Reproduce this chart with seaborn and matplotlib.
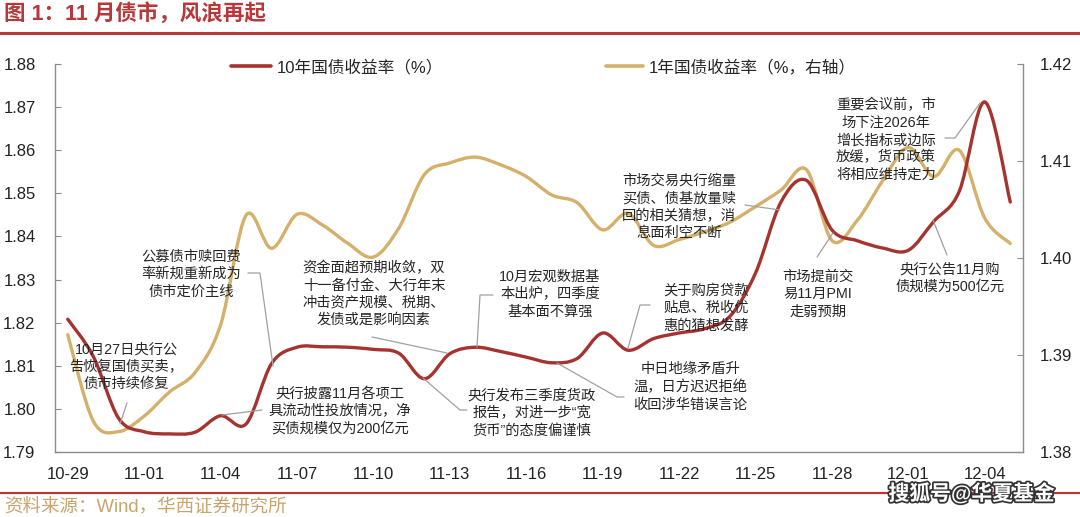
import numpy as np
import pandas as pd
import matplotlib
matplotlib.use("Agg")
import matplotlib.pyplot as plt
import matplotlib.dates as mdates
import matplotlib.patheffects as pe
from matplotlib.lines import Line2D
from matplotlib.path import Path
from matplotlib.patches import PathPatch
import seaborn as sns

# daily dates, 10-29 .. 12-05
dates = pd.date_range("2025-10-29", "2025-12-05", freq="D")

# 10y treasury yield (%, left axis)
y10 = [1.8208, 1.8122, 1.7978, 1.7947, 1.7942, 1.7946, 1.7984, 1.7965, 1.8105, 1.8143,
       1.8144, 1.8143, 1.8138, 1.8129, 1.8070, 1.8128, 1.8143, 1.8133, 1.8120, 1.8107,
       1.8117, 1.8176, 1.8136, 1.8163, 1.8176, 1.8186, 1.8215, 1.8315, 1.8480, 1.8530,
       1.8415, 1.8390, 1.8373, 1.8368, 1.8435, 1.8505, 1.8712, 1.8480]

# 1y treasury yield (%, right axis)
y1 = [1.3921, 1.3832, 1.3821, 1.3837, 1.3862, 1.3882, 1.3931, 1.4044, 1.4010, 1.4045,
      1.4034, 1.4015, 1.4001, 1.4031, 1.4086, 1.4098, 1.4104, 1.4096, 1.4084, 1.4065,
      1.4057, 1.4029, 1.4046, 1.4013, 1.4019, 1.4027, 1.4037, 1.4053, 1.4070, 1.4091,
      1.4018, 1.4039, 1.4080, 1.4114, 1.4084, 1.4111, 1.4041, 1.4015]

label10 = "10年国债收益率（%）"
label1 = "1年国债收益率（%，右轴）"

# annotation texts: (text, centre in px, leader polyline in px)
notes = [
    ("10月27日央行公\n告恢复国债买卖，\n债市持续修复", (126, 367), [(127, 403), (120, 424)]),
    ("公募债市赎回费\n率新规重新成为\n债市定价主线", (191, 274), [(248, 273), (260, 273), (273, 366)]),
    ("资金面超预期收敛，双\n十一备付金、大行年末\n冲击资产规模、税期、\n发债或是影响因素", (374, 294),
     [(372, 337), (447, 353)]),
    ("10月宏观数据基\n本出炉，四季度\n基本面不算强", (550, 294), [(493, 295), (480, 295), (477, 347)]),
    ("央行披露11月各项工\n具流动性投放情况，净\n买债规模仅为200亿元", (340, 411), [(262, 410), (222, 415)]),
    ("央行发布三季度货政\n报告，对进一步“宽\n货币”的态度偏谨慎", (532, 413),
     [(423, 378), (460, 410), (467, 410)]),
    ("关于购房贷款\n贴息、税收优\n惠的猜想发酵", (706, 308), [(650, 305), (640, 305), (628, 348)]),
    ("中日地缘矛盾升\n温，日方迟迟拒绝\n收回涉华错误言论", (690, 387), [(557, 363), (617, 397), (624, 397)]),
    ("市场交易央行缩量\n买债、债基放量赎\n回的相关猜想，消\n息面利空不断", (679, 207), [(745, 205), (780, 210)]),
    ("市场提前交\n易11月PMI\n走弱预期", (818, 294), [(817, 257), (833, 233)]),
    ("重要会议前，市\n场下注2026年\n增长指标或边际\n放缓，货币政策\n将相应维持定力", (886, 140),
     [(945, 138), (955, 138), (980, 103)]),
    ("央行公告11月购\n债规模为500亿元", (950, 278), [(947, 255), (933, 220)]),
]

RED = "#a5332f"
GOLD = "#d4b06a"
TITLE_RED = "#b8383a"
GRID_GRAY = "#8c8c8c"
W, H = 1080, 517

sns.set_style("white")
plt.rcParams['font.family'] = ['Liberation Sans', 'Noto Sans CJK SC', 'DejaVu Sans']

fig = plt.figure(figsize=(W / 100, H / 100), dpi=100)
ax = fig.add_axes([55 / W, 1 - 452 / H, (1023 - 55) / W, (452 - 64) / H])
ax2 = ax.twinx()

sns.lineplot(x=dates, y=y1, ax=ax2, color=GOLD, linewidth=2.4)
sns.lineplot(x=dates, y=y10, ax=ax, color=RED, linewidth=2.4)
ax.set_zorder(ax2.get_zorder() + 1)
ax.patch.set_visible(False)

half = pd.Timedelta(hours=12)
ax.set_xlim(dates[0] - half, dates[-1] + half)
ax.set_ylim(1.79, 1.88)
ax2.set_ylim(1.38, 1.42)


def smooth(a, line):
    # draw the seaborn line as a smoothed curve through its own points (like Excel's smoothed line)
    xy = line.get_xydata()
    n = len(xy)
    verts, codes = [xy[0]], [Path.MOVETO]
    for i in range(n - 1):
        p0, p1, p2, p3 = xy[max(i - 1, 0)], xy[i], xy[i + 1], xy[min(i + 2, n - 1)]
        verts += [p1 + (p2 - p0) / 6, p2 - (p3 - p1) / 6, p2]
        codes += [Path.CURVE4] * 3
    a.add_patch(PathPatch(Path(np.array(verts), codes), fill=False, edgecolor=line.get_color(),
                          lw=line.get_linewidth(), capstyle='round', joinstyle='round'))
    line.set_visible(False)


smooth(ax2, ax2.lines[0])
smooth(ax, ax.lines[0])

ax.set_yticks([1.79 + 0.01 * i for i in range(10)])
ax2.set_yticks([1.38 + 0.01 * i for i in range(5)])
ax.yaxis.set_major_formatter(matplotlib.ticker.FormatStrFormatter('%.2f'))
ax2.yaxis.set_major_formatter(matplotlib.ticker.FormatStrFormatter('%.2f'))

ax.set_xticks(dates[::3])
ax.xaxis.set_major_formatter(mdates.DateFormatter('%m-%d'))
ax.set_xticks(dates[3::3] - half, minor=True)
ax.set_xlabel("")
ax.set_ylabel("")
ax2.set_ylabel("")

ax.tick_params(axis='x', which='major', length=0, pad=11, labelsize=12, labelcolor='#222222')
ax.tick_params(axis='x', which='minor', direction='in', length=4, color=GRID_GRAY)
ax.tick_params(axis='y', direction='in', length=4, pad=14, labelsize=12, color=GRID_GRAY,
               labelcolor='#222222')
ax2.tick_params(axis='y', direction='in', length=4, pad=12, labelsize=12, color=GRID_GRAY,
                labelcolor='#222222')

for a in (ax, ax2):
    for s in a.spines.values():
        s.set_color(GRID_GRAY)
        s.set_linewidth(1)
    a.spines['top'].set_visible(False)
ax.spines['right'].set_visible(False)
ax2.spines['left'].set_visible(False)
ax2.spines['bottom'].set_visible(False)

# legends
fig.legend(handles=[Line2D([], [], color=RED, lw=2.6)], labels=[label10], loc='center left',
           bbox_to_anchor=(231 / W, 1 - 67 / H), frameon=False, fontsize=12,
           handlelength=2.4, handletextpad=0.35, borderpad=0, borderaxespad=0)
fig.legend(handles=[Line2D([], [], color=GOLD, lw=2.6)], labels=[label1], loc='center left',
           bbox_to_anchor=(606 / W, 1 - 67 / H), frameon=False, fontsize=12,
           handlelength=2.2, handletextpad=0.35, borderpad=0, borderaxespad=0)


def fxy(x, y):
    return x / W, 1 - y / H


for text, (cx, cy), path in notes:
    fig.text(*fxy(cx, cy), text, ha='center', va='center', multialignment='center',
             fontsize=10.3, color='#262626', linespacing=1.3)
    pts = [fxy(*p) for p in path]
    fig.add_artist(Line2D([p[0] for p in pts], [p[1] for p in pts], color='#a0a0a0', lw=0.9,
                          transform=fig.transFigure))

# title, rules, source
fig.text(*fxy(4, 14), "图 1：11 月债市，风浪再起", ha='left', va='center', fontsize=15.5,
         color=TITLE_RED, fontweight='bold')
fig.add_artist(Line2D([0, 1], [1 - 33 / H] * 2, color=TITLE_RED, lw=2.2, transform=fig.transFigure))
fig.add_artist(Line2D([0, 1], [1 - 493 / H] * 2, color=TITLE_RED, lw=1.6, transform=fig.transFigure))
fig.text(*fxy(4, 508), "资料来源：Wind，华西证券研究所", ha='left', va='center', fontsize=13.3,
         color='#c9a46c')
fig.text(*fxy(1055, 493), "搜狐号@华夏基金", ha='right', va='center', fontsize=15,
         color='white', fontweight='bold',
         path_effects=[pe.withStroke(linewidth=2.5, foreground='#333333')])

fig.savefig("out.png", dpi=100)
